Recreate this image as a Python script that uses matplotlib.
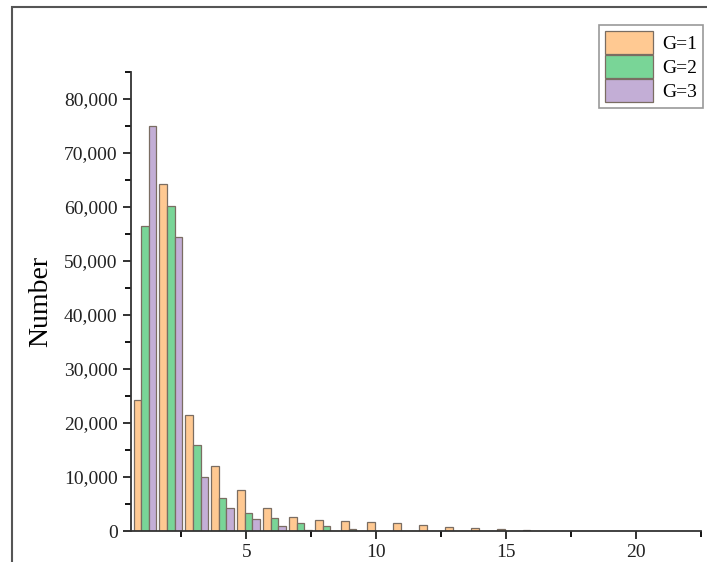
import numpy as np
import matplotlib
matplotlib.use("Agg")
import matplotlib.pyplot as plt
from matplotlib.patches import Rectangle
from matplotlib.ticker import MultipleLocator, FuncFormatter

plt.rcParams['font.family'] = ['Liberation Serif', 'DejaVu Serif']

# data
g = np.arange(1, 17)
g1 = [24200, 64300, 21400, 12100, 7600, 4300, 2700, 2000, 1800, 1600, 1500, 1050, 800, 600, 370, 150]
g2 = [56400, 60100, 15900, 6100, 3300, 2500, 1500, 900, 400, 100, 0, 0, 0, 0, 0, 0]
g3 = [74900, 54500, 10000, 4300, 2300, 1000, 150, 50, 0, 0, 0, 0, 0, 0, 0, 0]
labels = ['G=1', 'G=2', 'G=3']
colors = ['#FFC992', '#79D597', '#C3AED6']

fig = plt.figure(figsize=(7.07, 5.62), dpi=100)
ax = fig.add_axes([0.185, 0.055, 0.806, 0.817])

w = 0.29
edge = '#7a6d62'
for vals, off, c, lab in zip([g1, g2, g3], [-0.2, 0.09, 0.38], colors, labels):
    ax.bar(g + off, vals, width=w, color=c, edgecolor=edge, linewidth=0.9, label=lab)

ax.set_xlim(0.55, 22.5)
ax.set_ylim(0, 85000)
ax.xaxis.set_major_locator(MultipleLocator(5))
ax.xaxis.set_minor_locator(MultipleLocator(2.5))
ax.yaxis.set_major_locator(MultipleLocator(10000))
ax.yaxis.set_minor_locator(MultipleLocator(5000))
ax.yaxis.set_major_formatter(FuncFormatter(lambda v, p: f'{int(v):,}'))
ax.tick_params(which='major', length=6, width=1.3, labelsize=14, colors='#222222')
ax.tick_params(which='minor', length=4, width=1.3)
ax.spines['top'].set_visible(False)
ax.spines['right'].set_visible(False)
for s in ['left', 'bottom']:
    ax.spines[s].set_linewidth(1.3)
    ax.spines[s].set_color('#333333')
ax.set_ylabel('Number', fontsize=20, labelpad=8)

leg = fig.legend(loc='upper right', bbox_to_anchor=(0.995, 0.955), fontsize=14,
                 handlelength=2.45, handleheight=1.45, handletextpad=0.5,
                 labelspacing=0.05, borderpad=0.3, borderaxespad=0,
                 fancybox=False, framealpha=1, edgecolor='#999999')
leg.get_frame().set_linewidth(1.2)

# outer frame of the figure
fig.patches.append(Rectangle((12 / 707, -0.1), 1.0, 1.1 - 7 / 562,
                             transform=fig.transFigure, fill=False,
                             edgecolor='#555555', linewidth=1.5))

fig.savefig('out.png', dpi=100)
